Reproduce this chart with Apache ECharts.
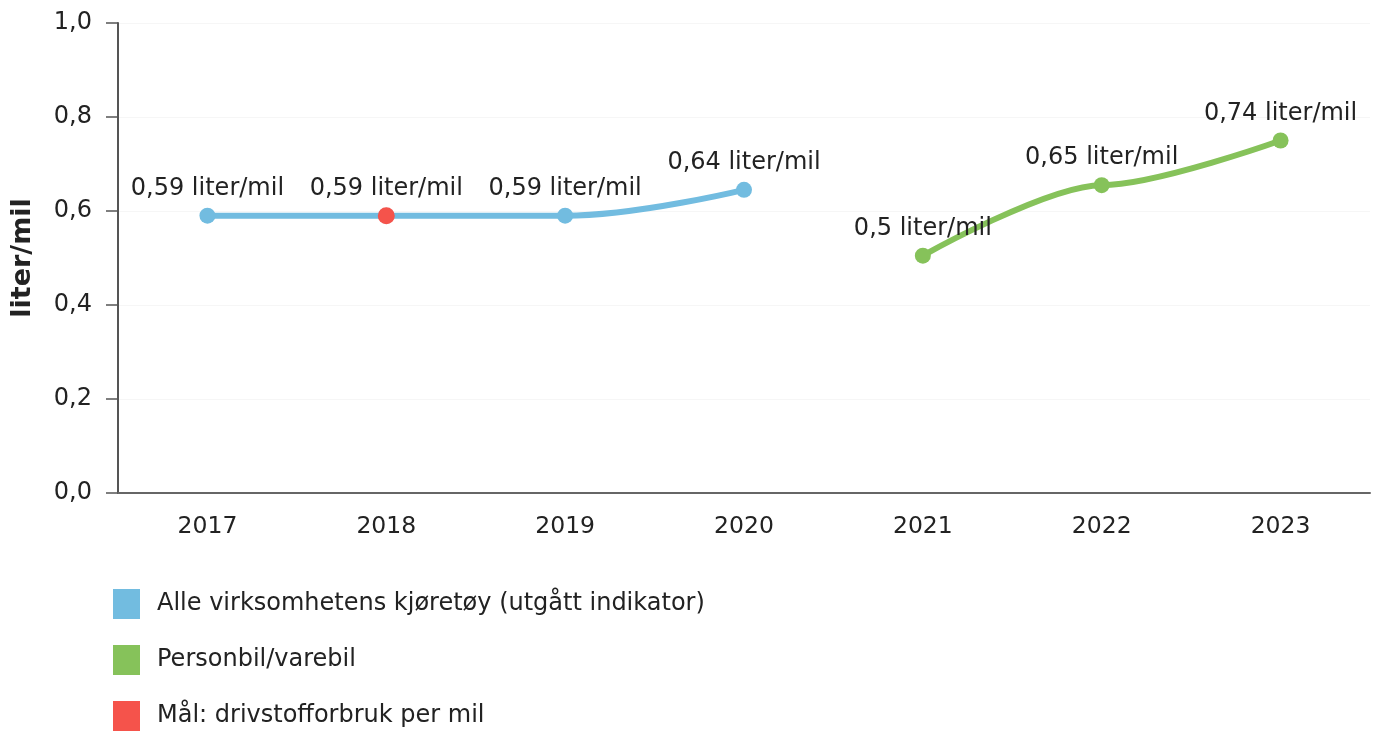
<!DOCTYPE html>
<html>
<head>
<meta charset="utf-8">
<script src="https://cdn.jsdelivr.net/npm/echarts@6/dist/echarts.min.js"></script>
<style>html,body{margin:0;padding:0;background:#fff}#c{width:1378px;height:735px}</style>
</head>
<body>
<div id="c"></div>
<script>
const categories = ['2017','2018','2019','2020','2021','2022','2023'];
const blueValues = [0.59, 0.59, 0.59, 0.645, null, null, null];
const greenValues = [null, null, null, null, 0.505, 0.655, 0.75];
const redValues = [null, 0.59, null, null, null, null, null];
const blueLabels = ['0,59 liter/mil','0,59 liter/mil','0,59 liter/mil','0,64 liter/mil','','',''];
const greenLabels = ['','','','','0,5 liter/mil','0,65 liter/mil','0,74 liter/mil'];
const yTicks = ['0,0','0,2','0,4','0,6','0,8','1,0'];
const seriesNames = ['Alle virksomhetens kjøretøy (utgått indikator)','Personbil/varebil','Mål: drivstofforbruk per mil'];

const FONT = 'DejaVu Sans';
const BLUE = '#72bce0', GREEN = '#86c25a', RED = '#f5534b';
const chart = echarts.init(document.getElementById('c'));
const lbl = (texts) => ({show:true, position:'top', distance:7, fontFamily:FONT, fontSize:24, color:'#222',
  formatter: p => texts[p.dataIndex]});
chart.setOption({
  animation:false,
  grid:{left:118, right:8, top:23, bottom:242, containLabel:false, outerBoundsMode:'none'},
  legend:{
    orient:'vertical', left:113, top:589, padding:0, itemWidth:27, itemHeight:30, itemGap:26, icon:'rect',
    textStyle:{fontFamily:FONT, fontSize:24, color:'#222', padding:[0,0,0,12]},
    data:seriesNames.map((n,i)=>({name:n, itemStyle:{color:[BLUE,GREEN,RED][i]}}))
  },
  xAxis:{
    type:'category', data:categories, boundaryGap:true,
    axisLine:{lineStyle:{color:'#666', width:2}},
    axisTick:{alignWithLabel:true, length:8, lineStyle:{color:'#aaa', width:1}},
    axisLabel:{margin:22, fontFamily:FONT, fontSize:23.5, color:'#222'},
    splitLine:{show:false}
  },
  yAxis:{
    type:'value', min:0, max:1, interval:0.2,
    name:'liter/mil', nameLocation:'middle', nameGap:82, nameRotate:90,
    nameTextStyle:{fontFamily:FONT, fontSize:27, fontWeight:'bold', color:'#222'},
    axisLine:{show:true, lineStyle:{color:'#555', width:2}},
    axisTick:{show:true, length:12, lineStyle:{color:'#555', width:1.5}},
    axisLabel:{margin:26, fontFamily:FONT, fontSize:24, color:'#222', formatter:v=>yTicks[Math.round(v/0.2)]},
    splitLine:{show:true, lineStyle:{color:'#f6f6f6', width:1}}
  },
  series:[
    {name:seriesNames[0], type:'line', data:blueValues, smooth:0.4, smoothMonotone:'x', symbol:'circle', symbolSize:16,
     lineStyle:{color:BLUE, width:6}, itemStyle:{color:BLUE}, label:lbl(blueLabels), z:2},
    {name:seriesNames[1], type:'line', data:greenValues, smooth:0.3, smoothMonotone:'x', symbol:'circle', symbolSize:16,
     lineStyle:{color:GREEN, width:6}, itemStyle:{color:GREEN}, label:lbl(greenLabels), z:2},
    {name:seriesNames[2], type:'line', data:redValues, symbol:'circle', symbolSize:17,
     lineStyle:{width:0}, itemStyle:{color:RED}, z:3}
  ]
});
</script>
</body>
</html>
